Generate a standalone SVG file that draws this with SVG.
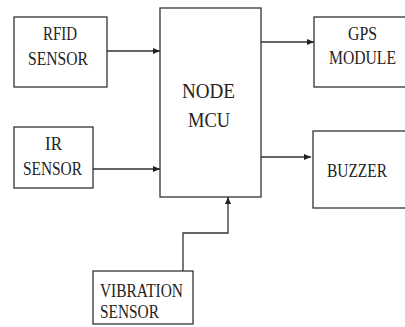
<svg xmlns="http://www.w3.org/2000/svg" width="405" height="327" viewBox="0 0 405 327">
<defs>
<marker id="ah" markerWidth="8" markerHeight="8" refX="7" refY="4" orient="auto" markerUnits="userSpaceOnUse">
<path d="M0,1 L7,4 L0,7 Z" fill="#222"/>
</marker>
</defs>
<rect width="405" height="327" fill="#fff"/>
<g font-family="Liberation Serif" font-size="18" fill="#222">
<g id="rfid">
<rect fill="#fff" stroke="#333" stroke-width="1.3" x="14" y="17" width="93" height="70"/>
<text x="60" y="40" text-anchor="middle" textLength="34" lengthAdjust="spacingAndGlyphs">RFID</text>
<text x="58" y="65" text-anchor="middle" textLength="60" lengthAdjust="spacingAndGlyphs">SENSOR</text>
</g>
<g id="ir">
<rect fill="#fff" stroke="#333" stroke-width="1.3" x="14" y="127" width="79" height="61"/>
<text x="53.5" y="150" text-anchor="middle" textLength="17" lengthAdjust="spacingAndGlyphs">IR</text>
<text x="52.5" y="175" text-anchor="middle" textLength="59" lengthAdjust="spacingAndGlyphs">SENSOR</text>
</g>
<g id="nodemcu">
<rect fill="#fff" stroke="#333" stroke-width="1.3" x="160" y="8" width="101" height="189"/>
<text font-size="21" x="208.5" y="98" text-anchor="middle" textLength="53" lengthAdjust="spacingAndGlyphs">NODE</text>
<text font-size="21" x="209" y="127" text-anchor="middle" textLength="42" lengthAdjust="spacingAndGlyphs">MCU</text>
</g>
<g id="gps">
<rect fill="#fff" stroke="#333" stroke-width="1.3" x="314" y="17" width="95" height="70"/>
<text x="362.5" y="40" text-anchor="middle" textLength="29" lengthAdjust="spacingAndGlyphs">GPS</text>
<text x="362.5" y="64" text-anchor="middle" textLength="67" lengthAdjust="spacingAndGlyphs">MODULE</text>
</g>
<g id="buzzer">
<rect fill="#fff" stroke="#333" stroke-width="1.3" x="313" y="131" width="96" height="77"/>
<text x="327" y="177" textLength="60" lengthAdjust="spacingAndGlyphs">BUZZER</text>
</g>
<g id="vibration">
<rect fill="#fff" stroke="#333" stroke-width="1.3" x="93" y="271" width="100" height="53"/>
<text x="100" y="297" textLength="83" lengthAdjust="spacingAndGlyphs">VIBRATION</text>
<text x="100" y="318" textLength="59" lengthAdjust="spacingAndGlyphs">SENSOR</text>
</g>
</g>
<g id="connectors" fill="none" stroke="#333" stroke-width="1.3">
<line x1="107" y1="51" x2="160" y2="51" marker-end="url(#ah)"/>
<line x1="93" y1="169" x2="160" y2="169" marker-end="url(#ah)"/>
<line x1="261" y1="42" x2="314" y2="42" marker-end="url(#ah)"/>
<line x1="261" y1="157" x2="311" y2="157" marker-end="url(#ah)"/>
<polyline points="183,271 183,233 228,233 228,197" marker-end="url(#ah)"/>
</g>
</svg>
